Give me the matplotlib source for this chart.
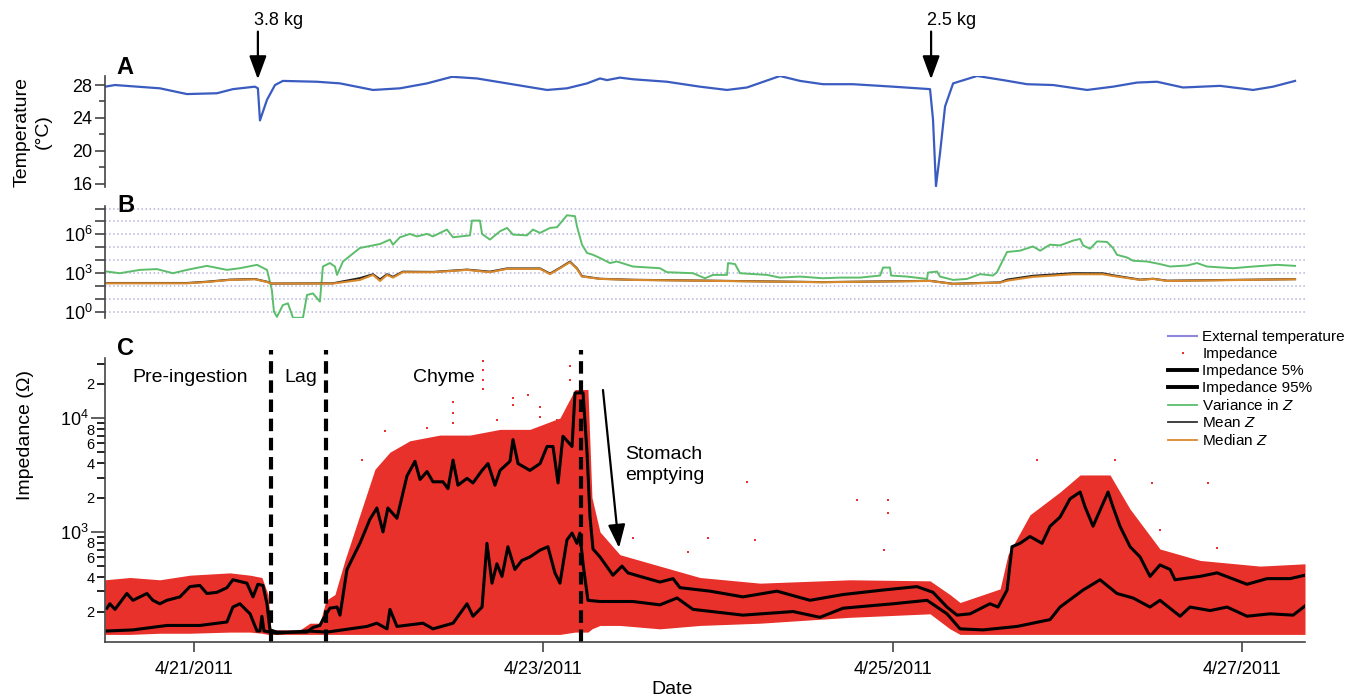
import numpy as np
import matplotlib
matplotlib.use("Agg")
import matplotlib.pyplot as plt
from matplotlib.lines import Line2D
from matplotlib.ticker import LogLocator, FuncFormatter, NullLocator, MultipleLocator

plt.rcParams['font.family'] = ['Liberation Sans', 'DejaVu Sans']
plt.rcParams['mathtext.fontset'] = 'custom'
plt.rcParams['mathtext.rm'] = 'Liberation Sans'
plt.rcParams['mathtext.it'] = 'Liberation Sans:italic'

# time axis: day of April 2011 (fractional)
temp_days = [20.491, 20.548, 20.805, 20.960, 21.132, 21.223, 21.349, 21.366, 21.378, 21.418,
             21.464, 21.509, 21.704, 21.836, 22.025, 22.179, 22.334, 22.477, 22.620, 22.792,
             23.021, 23.135, 23.250, 23.324, 23.364, 23.438, 23.513, 23.707, 23.896, 24.051,
             24.165, 24.354, 24.469, 24.600, 24.772, 25.001, 25.213, 25.230, 25.247, 25.270,
             25.299, 25.345, 25.482, 25.631, 25.768, 25.917, 26.112, 26.260, 26.398, 26.512,
             26.661, 26.873, 27.062, 27.176, 27.302]
temp_c = [27.8, 28.0, 27.6, 26.9, 27.0, 27.5, 27.8, 27.6, 23.7, 26.2,
          28.0, 28.5, 28.4, 28.2, 27.4, 27.6, 28.2, 29.0, 28.8, 28.2,
          27.4, 27.6, 28.2, 28.8, 28.6, 28.9, 28.7, 28.4, 27.8, 27.4,
          27.7, 29.1, 28.5, 28.1, 28.1, 27.8, 27.5, 23.8, 15.7, 19.7,
          25.4, 28.2, 29.1, 28.6, 28.1, 28.0, 27.4, 27.8, 28.3, 28.4,
          27.7, 27.9, 27.4, 27.8, 28.5]

feed_days = [21.366, 25.219]
feed_labels = ['3.8 kg', '2.5 kg']

var_days = [20.502, 20.576, 20.691, 20.788, 20.880, 20.960, 21.074, 21.189, 21.263, 21.361,
            21.418, 21.446, 21.458, 21.475, 21.509, 21.538, 21.567, 21.624, 21.647, 21.681,
            21.721, 21.738, 21.778, 21.807, 21.819, 21.853, 21.950, 22.065, 22.122, 22.139,
            22.179, 22.236, 22.276, 22.334, 22.368, 22.448, 22.483, 22.580, 22.591, 22.637,
            22.649, 22.694, 22.752, 22.792, 22.826, 22.906, 22.940, 22.981, 23.038, 23.078,
            23.135, 23.181, 23.192, 23.221, 23.250, 23.284, 23.324, 23.381, 23.421, 23.513,
            23.667, 23.707, 23.856, 23.925, 23.971, 24.051, 24.057, 24.097, 24.125, 24.280,
            24.354, 24.469, 24.600, 24.698, 24.812, 24.927, 24.944, 24.984, 24.990, 25.081,
            25.196, 25.201, 25.253, 25.270, 25.345, 25.425, 25.499, 25.573, 25.596, 25.631,
            25.654, 25.728, 25.802, 25.843, 25.900, 25.957, 26.031, 26.072, 26.089, 26.129,
            26.169, 26.226, 26.260, 26.283, 26.341, 26.375, 26.455, 26.529, 26.587, 26.684,
            26.741, 26.798, 26.947, 27.062, 27.199, 27.302]
var_z = [1290, 955, 1740, 2000, 955, 1740, 3550, 1740, 2340, 4270,
         1740, 48, 1.0, 0.39, 3.2, 4.4, 0.33, 0.33, 19.5, 26,
         5.9, 3160, 5890, 3160, 708, 7760, 8.71e4, 1.78e5, 3.89e5, 1.58e5,
         5.89e5, 1.07e6, 6.92e5, 1.07e6, 6.92e5, 2.34e6, 5.89e5, 8.32e5, 1.17e7, 1.17e7,
         1.07e6, 3.89e5, 1.74e6, 3.16e6, 9.55e5, 8.32e5, 2.34e6, 1.29e6, 3.16e6, 3.55e6,
         3.02e7, 2.57e7, 4.27e6, 1.58e5, 3.55e4, 2.57e4, 1.45e4, 5890, 7760, 3160,
         2340, 1150, 955, 389, 708, 708, 5890, 4900, 955, 708,
         437, 525, 389, 437, 437, 631, 2630, 2630, 631, 525,
         347, 1070, 1290, 525, 288, 347, 813, 631, 1150, 1.05e4,
         4.27e4, 5.37e4, 1.15e5, 5.37e4, 1.58e5, 1.38e5, 3.24e5, 4.37e5, 1.38e5, 7.59e4,
         2.82e5, 2.57e5, 8.71e4, 2.57e4, 1.58e4, 8910, 7760, 4900, 3160, 3800,
         5890, 3160, 2340, 3160, 4270, 3550]

stat_days = [20.502, 20.960, 21.074, 21.206, 21.349, 21.418, 21.446, 21.796, 21.950, 22.025,
             22.065, 22.105, 22.139, 22.196, 22.368, 22.563, 22.694, 22.792, 22.981, 23.038,
             23.095, 23.152, 23.192, 23.221, 23.324, 23.513, 23.896, 24.600, 25.213, 25.345,
             25.614, 25.654, 25.802, 26.031, 26.203, 26.260, 26.415, 26.489, 26.570, 27.302]
median_z = [158, 158, 200, 288, 324, 200, 151, 151, 288, 708,
            240, 708, 437, 1148, 1148, 1738, 1148, 2089, 2089, 813,
            2344, 6918, 2089, 525, 347, 288, 251, 191, 240, 141,
            178, 251, 501, 794, 794, 589, 288, 347, 240, 324]
mean_z = [166, 166, 209, 302, 339, 209, 151, 158, 398, 794,
          316, 794, 501, 1259, 1202, 1820, 1259, 2239, 2239, 891,
          2512, 7586, 2291, 562, 355, 295, 257, 195, 245, 145,
          186, 302, 603, 955, 933, 661, 302, 355, 251, 331]

p95_days = [20.502, 20.519, 20.548, 20.616, 20.651, 20.691, 20.731, 20.765, 20.805, 20.845,
            20.920, 20.977, 21.034, 21.074, 21.132, 21.189, 21.223, 21.303, 21.338, 21.366,
            21.395, 21.418, 21.435, 21.475, 21.647, 21.681, 21.721, 21.738, 21.778, 21.819,
            21.836, 21.876, 21.950, 22.007, 22.047, 22.082, 22.110, 22.162, 22.219, 22.265,
            22.294, 22.334, 22.368, 22.425, 22.454, 22.483, 22.511, 22.563, 22.597, 22.649,
            22.683, 22.723, 22.752, 22.809, 22.826, 22.855, 22.923, 22.981, 23.021, 23.055,
            23.084, 23.112, 23.164, 23.181, 23.227, 23.250, 23.267, 23.284, 23.324, 23.398,
            23.450, 23.484, 23.553, 23.667, 23.742, 23.782, 23.954, 24.142, 24.337, 24.526,
            24.715, 24.944, 25.138, 25.230, 25.310, 25.367, 25.442, 25.556, 25.602, 25.654,
            25.682, 25.728, 25.785, 25.854, 25.900, 25.957, 26.014, 26.072, 26.100, 26.146,
            26.203, 26.232, 26.260, 26.300, 26.358, 26.415, 26.472, 26.529, 26.587, 26.615,
            26.661, 26.758, 26.856, 27.027, 27.142, 27.274, 27.359]
p95_z = [214, 234, 209, 288, 251, 269, 288, 251, 234, 251,
         269, 331, 339, 288, 295, 324, 380, 355, 269, 347,
         339, 234, 138, 132, 132, 145, 151, 170, 214, 219,
         186, 468, 794, 1288, 1622, 1000, 1622, 1318, 3090, 4169,
         2884, 3388, 2754, 2754, 2399, 4266, 2570, 2951, 2692, 3467,
         3981, 2570, 3467, 4169, 6457, 3981, 3467, 3981, 5623, 5623,
         2692, 6918, 5623, 16600, 16600, 4898, 1349, 708, 603, 417,
         501, 437, 407, 363, 389, 324, 302, 269, 302, 251,
         282, 309, 331, 295, 219, 186, 191, 234, 219, 309,
         741, 794, 912, 794, 1122, 1349, 1950, 2239, 1660, 1122,
         1778, 2239, 1660, 1122, 741, 603, 407, 513, 468, 380,
         389, 407, 437, 347, 389, 389, 417]

p5_days = [20.502, 20.651, 20.845, 21.034, 21.189, 21.223, 21.263, 21.321, 21.361, 21.378,
           21.389, 21.401, 21.475, 21.647, 21.761, 21.990, 22.047, 22.105, 22.122, 22.162,
           22.311, 22.368, 22.483, 22.563, 22.597, 22.649, 22.677, 22.706, 22.734, 22.763,
           22.797, 22.837, 22.877, 22.923, 22.981, 23.026, 23.066, 23.095, 23.135, 23.164,
           23.192, 23.209, 23.227, 23.255, 23.324, 23.513, 23.667, 23.765, 23.856, 24.142,
           24.429, 24.583, 24.715, 25.001, 25.196, 25.253, 25.310, 25.385, 25.516, 25.711,
           25.900, 25.957, 26.089, 26.186, 26.283, 26.375, 26.472, 26.529, 26.644, 26.701,
           26.816, 26.913, 27.027, 27.159, 27.291, 27.359]
p5_z = [135, 138, 151, 151, 162, 219, 234, 191, 135, 135,
        182, 135, 129, 135, 132, 148, 158, 141, 209, 148,
        158, 141, 158, 234, 182, 219, 794, 355, 525, 407,
        741, 468, 562, 603, 692, 741, 437, 355, 851, 977,
        794, 977, 525, 251, 245, 245, 229, 263, 209, 186,
        200, 178, 214, 234, 251, 219, 191, 141, 138, 148,
        170, 219, 309, 380, 288, 263, 219, 251, 182, 219,
        204, 219, 182, 191, 186, 224]

# spread of raw impedance readings (upper / lower edge of the cloud)
cloud_days = [20.491, 20.634, 20.805, 20.977, 21.206, 21.321, 21.389, 21.424, 21.441, 21.607,
              21.664, 21.721, 21.756, 21.807, 21.864, 21.950, 22.036, 22.122, 22.236, 22.408,
              22.580, 22.752, 22.923, 23.095, 23.181, 23.255, 23.278, 23.324, 23.438, 23.667,
              23.896, 24.240, 24.755, 25.213, 25.327, 25.385, 25.614, 25.659, 25.785, 25.957,
              26.072, 26.243, 26.358, 26.529, 26.758, 27.102, 27.359]
cloud_hi = [380, 398, 380, 417, 437, 417, 398, 282, 138, 138,
            158, 158, 251, 282, 562, 1413, 3548, 5012, 6310, 7079,
            7079, 7943, 7943, 10000, 17783, 17783, 2000, 1000, 631, 501,
            398, 355, 380, 372, 282, 240, 316, 631, 1413, 2239,
            3162, 3162, 1585, 708, 562, 501, 525]
cloud_lo = [126, 126, 129, 129, 132, 132, 129, 126, 126, 126,
            126, 126, 126, 126, 126, 126, 126, 126, 126, 126,
            126, 126, 126, 126, 132, 132, 141, 151, 151, 141,
            151, 158, 178, 191, 141, 126, 126, 126, 126, 126,
            126, 126, 126, 126, 126, 126, 126]

# isolated high readings
spike_days = [22.654, 22.654, 22.654, 22.654, 22.483, 22.483, 22.483, 22.826, 22.826, 22.981,
              22.981, 23.078, 23.078, 22.334, 21.962, 22.093, 22.734, 22.912, 23.152, 23.152,
              23.513, 23.828, 23.942, 24.165, 24.211, 24.795, 24.972, 24.972, 24.950, 25.825,
              26.272, 26.484, 26.804, 26.856, 26.529]
spike_z = [31600, 26300, 21400, 17800, 13800, 11000, 9120, 15100, 12900, 12600,
           10200, 9550, 7760, 8130, 4270, 7760, 9550, 15800, 28800, 21400,
           891, 661, 891, 2754, 851, 1905, 1905, 1479, 692, 4266,
           4266, 2692, 2692, 724, 1047]

phase_bounds = [21.441, 21.756, 23.215]
phase_names = ['Pre-ingestion', 'Lag', 'Chyme']
phase_label_days = [20.977, 21.612, 22.431]

date_ticks = [21, 23, 25, 27]
date_labels = ['4/21/2011', '4/23/2011', '4/25/2011', '4/27/2011']

blue = '#3a5cc0'
red = '#e8312a'
green = '#5cbd6b'
orange = '#d9892c'
axis_col = '#444444'

fig = plt.figure(figsize=(13.54, 6.99), dpi=100)
L, W = 105 / 1354, 1200 / 1354
axA = fig.add_axes([L, 0.7325, W, 0.1588])
axB = fig.add_axes([L, 0.545, W, 0.1603])
axC = fig.add_axes([L, 0.0815, W, 0.4063])

for ax in (axA, axB, axC):
    ax.set_xlim(20.491, 27.359)
    for s in ('top', 'right'):
        ax.spines[s].set_visible(False)
    ax.spines['left'].set_color(axis_col)
    ax.spines['left'].set_linewidth(1.2)
    ax.tick_params(colors=axis_col, labelcolor='black', width=1.2)
for ax in (axA, axB):
    ax.spines['bottom'].set_visible(False)
    ax.set_xticks([])

# A: temperature
axA.plot(temp_days, temp_c, color=blue, lw=1.6)
axA.set_ylim(15.6, 29.1)
axA.yaxis.set_major_locator(MultipleLocator(4))
axA.yaxis.set_minor_locator(MultipleLocator(2))
axA.set_yticks([16, 20, 24, 28])
axA.tick_params(axis='y', which='major', length=7, labelsize=13, pad=2)
axA.tick_params(axis='y', which='minor', length=4.5, width=1.2, colors=axis_col)
tr = axA.get_xaxis_transform()
for d, lab in zip(feed_days, feed_labels):
    axA.annotate('', xy=(d, 0.97), xycoords=tr, xytext=(d, 1.40), textcoords=tr,
                 arrowprops=dict(arrowstyle='-|>,head_length=0.95,head_width=0.35',
                                 color='k', lw=1.6, mutation_scale=15, shrinkA=0, shrinkB=0),
                 annotation_clip=False)
    axA.text(d + 0.12, 1.50, lab, transform=tr, ha='center', va='center', fontsize=13)

# B: variance / mean / median
axB.set_yscale('log')
axB.set_ylim(10 ** -0.5, 10 ** 8.2)
axB.yaxis.set_major_locator(LogLocator(base=10, subs=(1.0,), numticks=20))
axB.yaxis.set_minor_locator(NullLocator())
axB.yaxis.set_major_formatter(FuncFormatter(
    lambda v, p: r'$10^{%d}$' % round(np.log10(v)) if round(np.log10(v)) % 3 == 0 else ''))
axB.tick_params(axis='y', length=7, labelsize=13, pad=2)
axB.yaxis.grid(True, color='#b4b4dc', ls=':', lw=1.1)
axB.plot(var_days, var_z, color=green, lw=1.4)
axB.plot(stat_days, mean_z, color='#222222', lw=1.5)
axB.plot(stat_days, median_z, color=orange, lw=1.5)

# C: impedance
axC.set_yscale('log')
axC.set_ylim(108, 33600)
axC.spines['bottom'].set_color(axis_col)
axC.spines['bottom'].set_linewidth(1.2)
axC.fill_between(cloud_days, cloud_lo, cloud_hi, color=red, lw=0)
axC.scatter(spike_days, spike_z, s=3, color=red, marker='s', lw=0)
axC.plot(p95_days, p95_z, color='k', lw=2.2)
axC.plot(p5_days, p5_z, color='k', lw=2.2)
for d in phase_bounds:
    axC.axvline(d, ymin=0, ymax=1.03, color='k', lw=3, ls=(0, (3, 1.6)), clip_on=False)

axC.yaxis.set_major_locator(LogLocator(base=10, numticks=20))
axC.yaxis.set_minor_locator(LogLocator(base=10, subs=np.arange(2, 10), numticks=20))
axC.yaxis.set_major_formatter(FuncFormatter(lambda v, p: r'$10^{%d}$' % round(np.log10(v))))


def minor_fmt(v, p):
    m = int(round(v / 10 ** np.floor(np.log10(v) + 1e-9)))
    return str(m) if m in (2, 4, 6, 8) else ''


axC.yaxis.set_minor_formatter(FuncFormatter(minor_fmt))
axC.tick_params(axis='y', which='major', length=10, labelsize=13, pad=2)
axC.tick_params(axis='y', which='minor', length=5.5, width=1.2, labelsize=10.5, pad=2)
axC.set_xticks(date_ticks)
axC.set_xticklabels(date_labels)
axC.tick_params(axis='x', length=7, labelsize=13, pad=7)

trc = axC.get_xaxis_transform()
for d, name in zip(phase_label_days, phase_names):
    axC.text(d, 0.933, name, transform=trc, ha='center', va='center', fontsize=14)
axC.text(23.467, 0.623, 'Stomach\nemptying', transform=trc, ha='left', va='center',
         fontsize=14, linespacing=1.25)
axC.annotate('', xy=(23.433, 724), xytext=(23.341, 17600),
             arrowprops=dict(arrowstyle='-|>,head_length=0.95,head_width=0.35',
                             color='k', lw=1.6, mutation_scale=15, shrinkA=0, shrinkB=0))

# labels
fig.text(125 / 1354, 1 - 68 / 699, 'A', fontsize=17, fontweight='bold', ha='center', va='center')
fig.text(126 / 1354, 1 - 205 / 699, 'B', fontsize=17, fontweight='bold', ha='center', va='center')
fig.text(126 / 1354, 1 - 348 / 699, 'C', fontsize=17, fontweight='bold', ha='center', va='center')
fig.text(33 / 1354, 1 - 132 / 699, 'Temperature\n(°C)', rotation=90, ha='center', va='center',
         fontsize=14, linespacing=1.3, multialignment='center')
fig.text(25 / 1354, 1 - 435 / 699, 'Impedance (Ω)', rotation=90, ha='center', va='center', fontsize=14)
fig.text(672 / 1354, 1 - 689 / 699, 'Date', ha='center', va='center', fontsize=14)

handles = [Line2D([], [], color='#8f87d9', lw=1.5),
           Line2D([], [], color=red, marker='s', ms=1.8, ls='', mew=0),
           Line2D([], [], color='k', lw=2.8),
           Line2D([], [], color='k', lw=2.8),
           Line2D([], [], color=green, lw=1.3),
           Line2D([], [], color='#333333', lw=1.3),
           Line2D([], [], color=orange, lw=1.3)]
labels = ['External temperature', 'Impedance', 'Impedance 5%', 'Impedance 95%',
          'Variance in $Z$', 'Mean $Z$', 'Median $Z$']
fig.legend(handles, labels, loc='upper right', bbox_to_anchor=(1345 / 1354, 1 - 330 / 699),
           frameon=False, fontsize=11, handlelength=1.9, handletextpad=0.35,
           labelspacing=0.2, borderpad=0, borderaxespad=0)

fig.savefig('out.png', dpi=100)
